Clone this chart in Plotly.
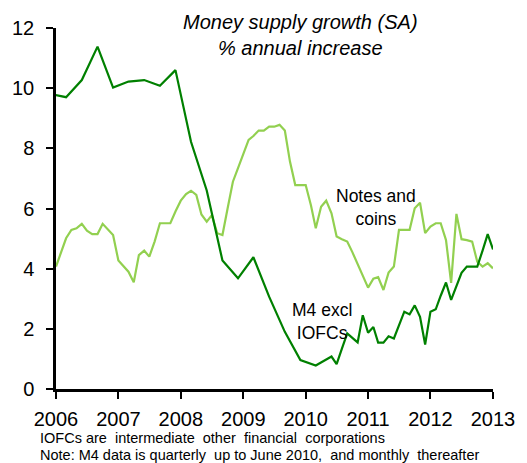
import plotly.graph_objects as go
import pandas as pd

# M4 excluding IOFCs: quarterly to June 2010, monthly thereafter (% y/y)
m4_dates = [
    "2005-12-01", "2006-03-01", "2006-06-01", "2006-09-01", "2006-12-01",
    "2007-03-01", "2007-06-01", "2007-09-01", "2007-12-01",
    "2008-03-01", "2008-06-01", "2008-09-01", "2008-12-01",
    "2009-03-01", "2009-06-01", "2009-09-01", "2009-12-01",
    "2010-03-01", "2010-06-01", "2010-07-01", "2010-08-01", "2010-09-01",
    "2010-10-01", "2010-11-01", "2010-12-01",
    "2011-01-01", "2011-02-01", "2011-03-01", "2011-04-01", "2011-05-01",
    "2011-06-01", "2011-07-01", "2011-08-01", "2011-09-01", "2011-10-01",
    "2011-11-01", "2011-12-01",
    "2012-01-01", "2012-02-01", "2012-03-01", "2012-04-01", "2012-05-01",
    "2012-06-01", "2012-07-01", "2012-08-01", "2012-09-01", "2012-10-01",
    "2012-11-01", "2012-12-01", "2013-01-01",
]
m4_values = [
    9.80, 9.70, 10.27, 11.38, 10.02,
    10.22, 10.27, 10.08, 10.60,
    8.22, 6.60, 4.27, 3.68,
    4.38, 3.07, 1.90, 0.96,
    0.78, 1.08, 0.83, 1.34, 1.85,
    1.70, 1.55, 2.45,
    1.87, 2.06, 1.54, 1.54, 1.75,
    1.68, 2.12, 2.57, 2.48, 2.78,
    2.40, 1.48,
    2.57, 2.65, 3.10, 3.54, 2.96,
    3.42, 3.86, 4.07, 4.07, 4.07,
    4.60, 5.15, 4.64,
]

# Notes and coins: monthly (% y/y), Jan 2006 to Jan 2013
nc_start = "2006-01-01"
nc_values = [
    # 2006
    4.07, 4.55, 5.01, 5.29, 5.34, 5.49, 5.26, 5.15, 5.15, 5.49, 5.31, 5.12,
    # 2007
    4.27, 4.07, 3.90, 3.55, 4.45, 4.60, 4.40, 4.90, 5.51, 5.51, 5.51, 5.90,
    # 2008
    6.26, 6.48, 6.59, 6.45, 5.80, 5.56, 5.78, 5.18, 5.12, 6.00, 6.89, 7.34,
    # 2009
    7.78, 8.28, 8.41, 8.59, 8.59, 8.72, 8.72, 8.78, 8.59, 7.56, 6.78, 6.78,
    # 2010
    6.78, 6.10, 5.34, 6.06, 6.26, 5.84, 5.07, 4.98, 4.90, 4.55, 4.15, 3.75,
    # 2011
    3.37, 3.67, 3.72, 3.29, 3.87, 4.07, 5.29, 5.29, 5.29, 6.01, 6.19, 5.18,
    # 2012
    5.40, 5.51, 5.51, 4.95, 3.53, 5.82, 4.98, 4.95, 4.90, 4.23, 4.07, 4.18,
    # 2013
    4.01,
]

years = [2006, 2007, 2008, 2009, 2010, 2011, 2012, 2013]
year_ticks = [f"{y}-01-01" for y in years]
year_labels = [str(y) for y in years]

y_ticks = [0, 2, 4, 6, 8, 10, 12]

DARK_GREEN = "#008000"
LIGHT_GREEN = "#92D050"
FONT = "Liberation Sans, Arial, sans-serif"

# monthly dates for the notes-and-coins series
nc_dates = pd.date_range(nc_start, periods=len(nc_values), freq="MS")

fig = go.Figure()
fig.add_trace(go.Scatter(
    x=nc_dates, y=nc_values, mode="lines",
    line=dict(color=LIGHT_GREEN, width=2.2), name="Notes and coins",
))
fig.add_trace(go.Scatter(
    x=m4_dates, y=m4_values, mode="lines",
    line=dict(color=DARK_GREEN, width=2.2), name="M4 excl IOFCs",
))

# plot-area geometry (pixels) used to place free text
L, R, T, B = 48.7, 24.7, 28, 74
W, H = 527, 463
pw, ph = W - L - R, H - T - B


def px(x):
    return (x - L) / pw


def py(y):
    return (H - B - y) / ph


fig.update_layout(
    width=W, height=H,
    margin=dict(l=L, r=R, t=T, b=B, pad=0),
    paper_bgcolor="white", plot_bgcolor="white",
    showlegend=False,
    font=dict(family=FONT, color="black"),
)

fig.update_xaxes(
    type="date",
    range=["2006-01-01", "2013-01-01"],
    tickvals=year_ticks, ticktext=year_labels,
    ticks="outside", ticklen=7, tickwidth=2, tickcolor="black",
    showline=True, linecolor="black", linewidth=2.5,
    showgrid=False, zeroline=False,
    tickfont=dict(size=20, family=FONT, color="black"),
    ticklabelstandoff=3,
)
fig.update_yaxes(
    range=[0, 12],
    tickvals=y_ticks,
    ticks="outside", ticklen=7, tickwidth=2, tickcolor="black",
    showline=True, linecolor="black", linewidth=2.5,
    showgrid=False, zeroline=False,
    tickfont=dict(size=20, family=FONT, color="black"),
    ticklabelstandoff=8,
)

annotations = [
    dict(text="<i>Money supply growth (SA)<br>% annual increase</i>",
         x=px(302), y=py(34.5), xanchor="center", yanchor="middle",
         font=dict(size=20, family=FONT, color="black")),
    dict(text="Notes and<br>coins",
         x=px(381), y=py(207), xanchor="center", yanchor="middle",
         font=dict(size=17.5, family=FONT, color="black")),
    dict(text="M4 excl<br>IOFCs",
         x=px(325), y=py(321), xanchor="center", yanchor="middle",
         font=dict(size=17.5, family=FONT, color="black")),
    dict(text="IOFCs are  intermediate  other  financial  corporations",
         x=px(29.5), y=py(437.5), xanchor="left", yanchor="middle",
         font=dict(size=14.5, family=FONT, color="black")),
    dict(text="Note: M4 data is quarterly  up to June 2010,  and monthly  thereafter",
         x=px(29.5), y=py(455), xanchor="left", yanchor="middle",
         font=dict(size=14.5, family=FONT, color="black")),
]
for a in annotations:
    a.update(xref="paper", yref="paper", showarrow=False, align="center")
fig.update_layout(annotations=annotations)

fig.write_html("out.html")
